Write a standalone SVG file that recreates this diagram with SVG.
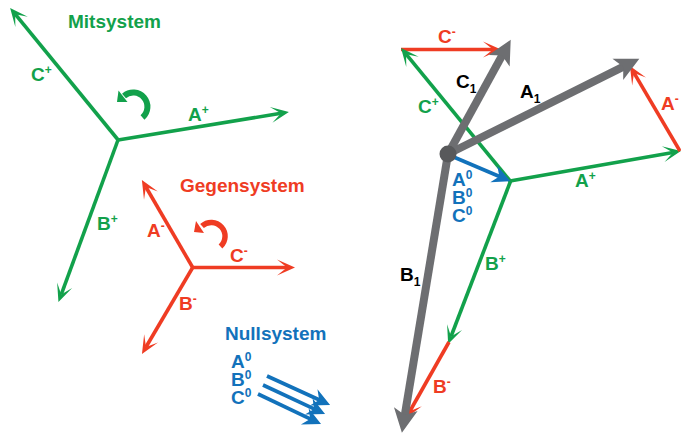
<svg xmlns="http://www.w3.org/2000/svg" width="681" height="438" viewBox="0 0 681 438">
<style>
text{font-family:"Liberation Sans",Arial,sans-serif;font-weight:700;font-size:19px}
.t{font-size:19px}
.s{font-size:12px}
.g{fill:#12a14b}.r{fill:#ef3c23}.b{fill:#1272bb}.k{fill:#000}
line{fill:none}
.lg{stroke:#12a14b;stroke-width:3.6}
.lr{stroke:#ef3c23;stroke-width:3.6}
.lb{stroke:#1272bb;stroke-width:3.8}
.lk{stroke:#6d6e71;stroke-width:8}
.ag{marker-end:url(#hg)}.ar{marker-end:url(#hr)}.ab{marker-end:url(#hb)}.ak{marker-end:url(#hk)}
</style>
<defs>
<marker id="hg" markerUnits="userSpaceOnUse" orient="auto" markerWidth="24" markerHeight="24" refX="12" refY="12" viewBox="0 0 24 24"><path d="M20 12L2 4L12 12L2 20Z" fill="#12a14b"/></marker>
<marker id="hr" markerUnits="userSpaceOnUse" orient="auto" markerWidth="24" markerHeight="24" refX="12" refY="12" viewBox="0 0 24 24"><path d="M20 12L2 4L12 12L2 20Z" fill="#ef3c23"/></marker>
<marker id="hb" markerUnits="userSpaceOnUse" orient="auto" markerWidth="24" markerHeight="24" refX="12" refY="12" viewBox="0 0 24 24"><path d="M20 12L2 3L8 12L2 21Z" fill="#1272bb"/></marker>
<marker id="hk" markerUnits="userSpaceOnUse" orient="auto" markerWidth="36" markerHeight="36" refX="14" refY="18" viewBox="0 0 36 36"><path d="M30 18L6 6L12 18L6 30Z" fill="#6d6e71"/></marker>
</defs>
<g id="connectors">
<line class="lg ag" x1="118" y1="140" x2="281" y2="113.3"/>
<line class="lg ag" x1="119" y1="141" x2="15.200" y2="14.200"/>
<line class="lg ag" x1="118" y1="140" x2="61.200" y2="294.600"/>
<line class="lr ar" x1="193" y1="268" x2="145.900" y2="187"/>
<line class="lr ar" x1="191" y1="267.500" x2="287" y2="267.500"/>
<line class="lr ar" x1="193" y1="267" x2="146" y2="347"/>
<line class="lb ab" x1="267" y1="376" x2="322.800" y2="401.600"/>
<line class="lb ab" x1="263" y1="385" x2="317.800" y2="410.600"/>
<line class="lb ab" x1="258" y1="394" x2="313.800" y2="420.600"/>
<line class="lr ar" x1="401" y1="49.500" x2="493" y2="49.500"/>
<line class="lg ag" x1="511" y1="182" x2="406.100" y2="54.200"/>
<line class="lg ag" x1="510" y1="181" x2="673" y2="152.400"/>
<line class="lr ar" x1="680" y1="151" x2="634" y2="72.900"/>
<line class="lg ag" x1="511" y1="180" x2="451" y2="336.500"/>
<line class="lr ar" x1="449" y1="342" x2="410" y2="411"/>
<line class="lb ab" x1="449" y1="155" x2="503" y2="178"/>
<line class="lk ak" x1="448" y1="154" x2="625" y2="65.800"/>
<line class="lk ak" x1="448" y1="154" x2="503" y2="53.800"/>
<line class="lk ak" x1="448" y1="154" x2="404.500" y2="417"/>
</g>
<g id="rotation-mit"><path d="M142.500 117.500A14 14 0 0 0 124 96" fill="none" stroke="#12a14b" stroke-width="6"/><path d="M117 102L118.500 90.500L127.500 102Z" fill="#12a14b"/></g>
<g id="rotation-geg"><path d="M220.500 246.500A13 13 0 0 0 202 226" fill="none" stroke="#ef3c23" stroke-width="5.500"/><path d="M194 232L196 221L204 233Z" fill="#ef3c23"/></g>
<g id="dot"><circle cx="448" cy="154" r="8.500" fill="#58595b"/></g>
<g id="title-mit"><text class="t g" x="68" y="28">Mitsystem</text></g>
<g id="title-geg"><text class="t r" x="180" y="192">Gegensystem</text></g>
<g id="title-null"><text class="t b" x="225" y="340">Nullsystem</text></g>
<g id="label-cp"><text class="g" x="31" y="81">C<tspan class="s" dy="-7">+</tspan></text></g>
<g id="label-ap"><text class="g" x="188" y="121">A<tspan class="s" dy="-7">+</tspan></text></g>
<g id="label-bp"><text class="g" x="97" y="230">B<tspan class="s" dy="-7">+</tspan></text></g>
<g id="label-am"><text class="r" x="147" y="237">A<tspan class="s" dy="-7">-</tspan></text></g>
<g id="label-cm"><text class="r" x="230" y="262">C<tspan class="s" dy="-7">-</tspan></text></g>
<g id="label-bm"><text class="r" x="179" y="310">B<tspan class="s" dy="-7">-</tspan></text></g>
<g id="label-null-left"><text class="b" x="231" y="368">A<tspan class="s" dy="-7">0</tspan></text><text class="b" x="231" y="386">B<tspan class="s" dy="-7">0</tspan></text><text class="b" x="231" y="404">C<tspan class="s" dy="-7">0</tspan></text></g>
<g id="label-c1"><text class="k" x="456" y="88">C<tspan class="s" dy="5">1</tspan></text></g>
<g id="label-a1"><text class="k" x="520" y="98">A<tspan class="s" dy="5">1</tspan></text></g>
<g id="label-b1"><text class="k" x="400" y="281">B<tspan class="s" dy="5">1</tspan></text></g>
<g id="label-rcm"><text class="r" x="438" y="43">C<tspan class="s" dy="-7">-</tspan></text></g>
<g id="label-rcp"><text class="g" x="418" y="113">C<tspan class="s" dy="-7">+</tspan></text></g>
<g id="label-ram"><text class="r" x="661" y="110">A<tspan class="s" dy="-7">-</tspan></text></g>
<g id="label-rap"><text class="g" x="575" y="187">A<tspan class="s" dy="-7">+</tspan></text></g>
<g id="label-rbp"><text class="g" x="485" y="270">B<tspan class="s" dy="-7">+</tspan></text></g>
<g id="label-rbm"><text class="r" x="433" y="393">B<tspan class="s" dy="-7">-</tspan></text></g>
<g id="label-null-right"><text class="b" x="452" y="186">A<tspan class="s" dy="-7">0</tspan></text><text class="b" x="452" y="204">B<tspan class="s" dy="-7">0</tspan></text><text class="b" x="452" y="222">C<tspan class="s" dy="-7">0</tspan></text></g>
</svg>
